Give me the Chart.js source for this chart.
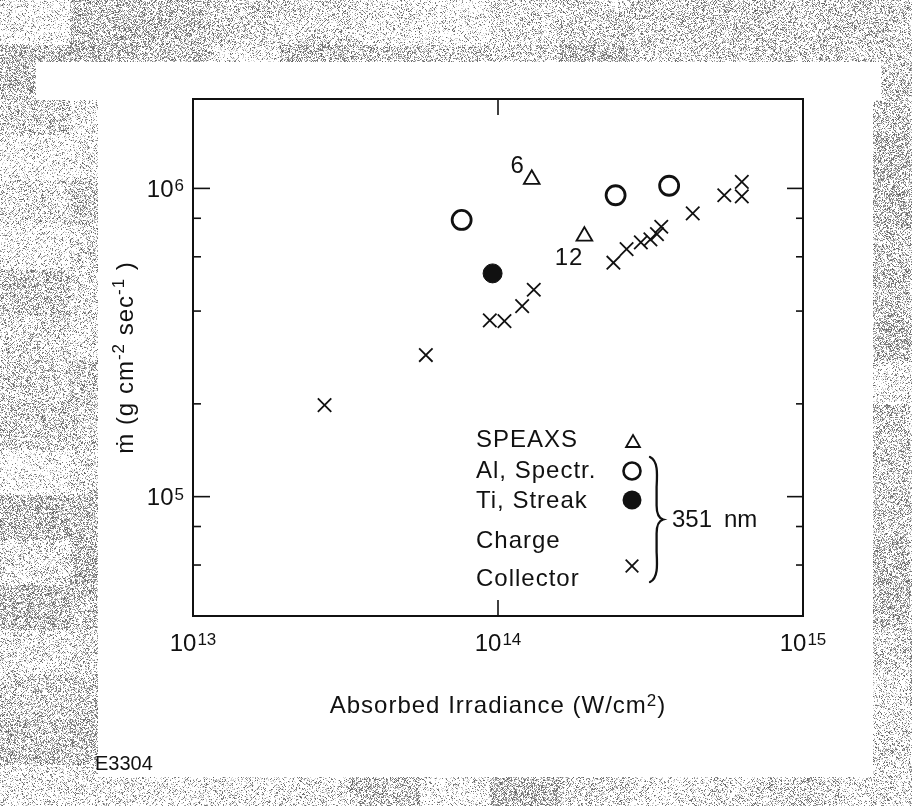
<!DOCTYPE html>
<html><head><meta charset="utf-8">
<script src="https://cdn.jsdelivr.net/npm/chart.js@4.4.1/dist/chart.umd.min.js"></script>
<style>html,body{margin:0;padding:0;background:#fff;overflow:hidden}canvas{display:block}</style>
</head><body>
<canvas id="c" width="912" height="806"></canvas>
<script>
// ---- data ----
const speaxsX = [1.29e14, 1.92e14];
const speaxsY = [1.07e6, 7.0e5];
const speaxsNotes = ['6', '12'];
const alX = [7.6e13, 2.43e14, 3.64e14];
const alY = [7.9e5, 9.5e5, 1.02e6];
const tiX = [9.6e13];
const tiY = [5.3e5];
const ccX = [2.7e13, 5.8e13, 9.4e13, 1.05e14, 1.2e14, 1.31e14, 2.39e14, 2.64e14, 2.94e14, 3.16e14, 3.32e14, 3.43e14, 4.35e14, 5.52e14, 6.3e14, 6.3e14];
const ccY = [1.98e5, 2.88e5, 3.73e5, 3.71e5, 4.15e5, 4.69e5, 5.74e5, 6.35e5, 6.68e5, 6.83e5, 7.11e5, 7.51e5, 8.3e5, 9.5e5, 1.05e6, 9.42e5];
const xMajorTicks = [1e13, 1e14, 1e15];
const xMajorExp = ['13', '14', '15'];
const xInnerTicks = [1e14];
const yMajorTicks = [1e5, 1e6];
const yMajorExp = ['5', '6'];
const yMinorTicks = [6e4, 8e4, 2e5, 4e5, 6e5, 8e5];
const xRange = [1e13, 1e15];
const yRange = [4.1e4, 1.95e6];
const legendItems = ['SPEAXS', 'Al, Spectr.', 'Ti, Streak', 'Charge|Collector'];
const wavelengthNote = ['351', 'nm'];
const figId = 'E3304';

const FF = '"Liberation Sans", Arial, Helvetica, "DejaVu Sans", sans-serif';
const zip = (xs, ys) => xs.map((x, i) => ({x, y: ys[i]}));

function hash(x, y) {
  let h = Math.imul(x, 374761393) + Math.imul(y, 668265263);
  h = Math.imul(h ^ (h >>> 13), 1274126177);
  h = h ^ (h >>> 16);
  return (h >>> 0) / 4294967296;
}

const bgPlugin = {
  id: 'bg',
  beforeDraw(chart) {
    const ctx = chart.ctx, W = chart.width, H = chart.height;
    const img = ctx.createImageData(W, H);
    const d = img.data;
    for (let y = 0; y < H; y++) {
      for (let x = 0; x < W; x++) {
        const i = (y * W + x) * 4;
        const inside = (y >= 62 && y <= 776 && x >= 98 && x <= 872) || (y >= 62 && y < 100 && x >= 36 && x <= 880);
        let v = 255;
        if (!inside) {
          const bx = Math.floor(x / 70), by = Math.floor(y / 45);
          const dens = 0.06 + 0.32 * hash(bx + 11, by + 7);
          const hatch = (hash(bx + 3, by + 5) > 0.5) ? (((x + y) % 5 === 0) ? 0.25 : 0) : (((x - y + 1000) % 4 === 0) ? 0.2 : 0);
          const r = hash(x, y);
          if (r < dens + hatch) v = 95 + Math.floor(hash(y, x) * 80);
          else if (r < dens + hatch + 0.12) v = 210;
        }
        d[i] = d[i + 1] = d[i + 2] = v; d[i + 3] = 255;
      }
    }
    ctx.putImageData(img, 0, 0);
  }
};

function supText(ctx, base, exp, x, cy, align, bs, es) {
  ctx.font = `${bs}px ${FF}`; const wb = ctx.measureText(base).width;
  ctx.font = `${es}px ${FF}`; const we = ctx.measureText(exp).width;
  let left = align === 'right' ? x - wb - we - 1 : align === 'center' ? x - (wb + we + 1) / 2 : x;
  ctx.textAlign = 'left'; ctx.textBaseline = 'alphabetic';
  ctx.font = `${bs}px ${FF}`; ctx.fillText(base, left, cy + bs * 0.36);
  ctx.font = `${es}px ${FF}`; ctx.fillText(exp, left + wb + 1, cy + bs * 0.36 - bs * 0.24);
}

function drawBrace(ctx, x, top, bottom, w) {
  const mid = (top + bottom) / 2;
  ctx.save();
  ctx.lineWidth = 2.3; ctx.lineCap = 'round';
  ctx.beginPath();
  ctx.moveTo(x, top);
  ctx.bezierCurveTo(x + w * 0.7, top + 4, x + w * 0.6, top + 18, x + w * 0.55, top + 30);
  ctx.lineTo(x + w * 0.55, mid - 14);
  ctx.bezierCurveTo(x + w * 0.55, mid - 4, x + w * 0.8, mid - 1, x + w * 1.1, mid);
  ctx.bezierCurveTo(x + w * 0.8, mid + 1, x + w * 0.55, mid + 4, x + w * 0.55, mid + 14);
  ctx.lineTo(x + w * 0.55, bottom - 30);
  ctx.bezierCurveTo(x + w * 0.6, bottom - 18, x + w * 0.7, bottom - 4, x, bottom);
  ctx.stroke();
  ctx.restore();
}

function openTriangle(ctx, x, y, r) {
  ctx.beginPath();
  for (let k = 0; k < 3; k++) {
    const ang = k * 2 * Math.PI / 3;
    const px = x + Math.sin(ang) * r, py = y - Math.cos(ang) * r;
    if (k === 0) ctx.moveTo(px, py); else ctx.lineTo(px, py);
  }
  ctx.closePath();
  ctx.stroke();
}

const framePlugin = {
  id: 'frame',
  afterDatasetsDraw(chart) {
    const ctx = chart.ctx, a = chart.chartArea;
    const xs = chart.scales.x, ys = chart.scales.y;
    ctx.save();
    ctx.strokeStyle = '#111'; ctx.fillStyle = '#111';
    ctx.lineWidth = 2;
    ctx.strokeRect(a.left, a.top, a.right - a.left, a.bottom - a.top);
    ctx.lineWidth = 1.6;
    const tick = (x1, y1, x2, y2) => { ctx.beginPath(); ctx.moveTo(x1, y1); ctx.lineTo(x2, y2); ctx.stroke(); };
    yMajorTicks.forEach(v => { const p = ys.getPixelForValue(v); tick(a.left, p, a.left + 17, p); tick(a.right, p, a.right - 16, p); });
    yMinorTicks.forEach(v => { const p = ys.getPixelForValue(v); tick(a.left, p, a.left + 8, p); tick(a.right, p, a.right - 7, p); });
    xInnerTicks.forEach(v => { const p = xs.getPixelForValue(v); tick(p, a.bottom, p, a.bottom - 16); tick(p, a.top, p, a.top + 16); });
    yMajorTicks.forEach((v, i) => supText(ctx, '10', yMajorExp[i], a.left - 9, ys.getPixelForValue(v), 'right', 24, 17));
    xMajorTicks.forEach((v, i) => supText(ctx, '10', xMajorExp[i], xs.getPixelForValue(v), a.bottom + 26, 'center', 24, 17));
    // x title
    ctx.letterSpacing = '1px';
    ctx.font = `24px ${FF}`;
    const t1 = 'Absorbed Irradiance (W/cm', t2 = '2', t3 = ')';
    const w1 = ctx.measureText(t1).width, w3 = ctx.measureText(t3).width;
    ctx.font = `17px ${FF}`; const w2 = ctx.measureText(t2).width;
    let xl = (a.left + a.right) / 2 - (w1 + w2 + w3) / 2, by = a.bottom + 97;
    ctx.textAlign = 'left'; ctx.textBaseline = 'alphabetic';
    ctx.font = `24px ${FF}`; ctx.fillText(t1, xl, by);
    ctx.font = `17px ${FF}`; ctx.fillText(t2, xl + w1, by - 7);
    ctx.font = `24px ${FF}`; ctx.fillText(t3, xl + w1 + w2, by);
    // y title (rotated)
    ctx.save();
    ctx.translate(a.left - 68, (a.top + a.bottom) / 2);
    ctx.rotate(-Math.PI / 2);
    const parts = [['\u1E41 (g cm', 24, 0], ['-2', 17, -9], [' sec', 24, 0], ['-1', 17, -9], [' )', 24, 0]];
    let tw = 0; parts.forEach(p => { ctx.font = `${p[1]}px ${FF}`; tw += ctx.measureText(p[0]).width; });
    let px = -tw / 2;
    parts.forEach(p => { ctx.font = `${p[1]}px ${FF}`; ctx.fillText(p[0], px, 8 + p[2]); px += ctx.measureText(p[0]).width; });
    ctx.restore();
    // point notes
    ctx.font = `24px ${FF}`; ctx.textBaseline = 'middle';
    ctx.textAlign = 'right';
    ctx.fillText(speaxsNotes[0], xs.getPixelForValue(speaxsX[0]) - 7, ys.getPixelForValue(speaxsY[0]) - 13);
    ctx.fillText(speaxsNotes[1], xs.getPixelForValue(speaxsX[1]) - 1, ys.getPixelForValue(speaxsY[1]) + 22);
    // legend
    ctx.textAlign = 'left';
    const lx = 476, mx = 632;
    ctx.fillText(legendItems[0], lx, 440);
    ctx.fillText(legendItems[1], lx, 471);
    ctx.fillText(legendItems[2], lx, 501);
    const cc = legendItems[3].split('|');
    ctx.fillText(cc[0], lx, 541);
    ctx.fillText(cc[1], lx, 579);
    ctx.letterSpacing = '0px';
    ctx.lineWidth = 1.8;
    openTriangle(ctx, mx + 1, 443, 8);
    ctx.lineWidth = 2.6; ctx.beginPath(); ctx.arc(mx, 471, 8.5, 0, Math.PI * 2); ctx.stroke();
    ctx.beginPath(); ctx.arc(mx, 500, 9.5, 0, Math.PI * 2); ctx.fill();
    ctx.lineWidth = 1.8;
    const cr = 6.3; tick(mx - cr, 566 - cr, mx + cr, 566 + cr); tick(mx - cr, 566 + cr, mx + cr, 566 - cr);
    drawBrace(ctx, 650, 457, 582, 12);
    ctx.font = `24px ${FF}`; ctx.textBaseline = 'middle';
    ctx.fillText(wavelengthNote[0], 672, 520);
    ctx.fillText(wavelengthNote[1], 724, 520);
    ctx.font = `20px ${FF}`; ctx.textBaseline = 'alphabetic';
    ctx.fillText(figId, 95, 770);
    ctx.restore();
  }
};

new Chart(document.getElementById('c'), {
  type: 'scatter',
  data: {
    datasets: [
      {label: 'SPEAXS', data: zip(speaxsX, speaxsY), pointStyle: 'triangle', pointRadius: 9, pointBorderWidth: 1.9, borderColor: '#111', backgroundColor: 'rgba(255,255,255,0)'},
      {label: 'Al, Spectr.', data: zip(alX, alY), pointStyle: 'circle', pointRadius: 9.5, pointBorderWidth: 2.8, borderColor: '#111', backgroundColor: 'rgba(255,255,255,0)'},
      {label: 'Ti, Streak', data: zip(tiX, tiY), pointStyle: 'circle', pointRadius: 9.5, pointBorderWidth: 1, borderColor: '#111', backgroundColor: '#111'},
      {label: 'Charge Collector', data: zip(ccX, ccY), pointStyle: 'crossRot', pointRadius: 9.5, pointBorderWidth: 1.8, borderColor: '#111', backgroundColor: '#111'}
    ]
  },
  options: {
    responsive: false, animation: false, devicePixelRatio: 1,
    layout: {padding: {left: 193, right: 109, top: 99, bottom: 190}},
    plugins: {legend: {display: false}, tooltip: {enabled: false}},
    events: [],
    scales: {
      x: {type: 'logarithmic', min: xRange[0], max: xRange[1], display: false},
      y: {type: 'logarithmic', min: yRange[0], max: yRange[1], display: false}
    }
  },
  plugins: [bgPlugin, framePlugin]
});
</script>
</body></html>
